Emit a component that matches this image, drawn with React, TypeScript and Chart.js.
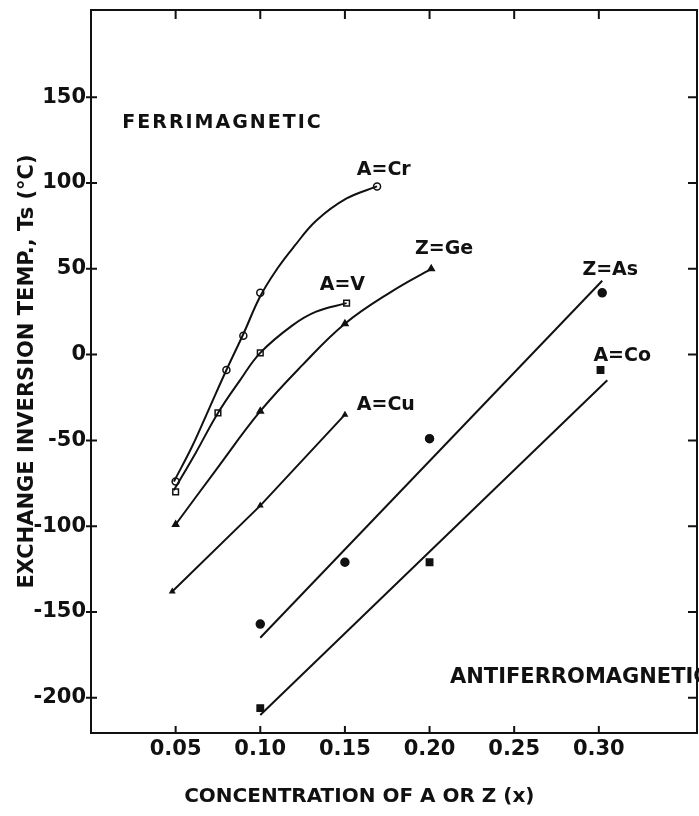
import React, { useEffect, useRef } from "react";
import { Chart, registerables } from "chart.js";

Chart.register(...registerables);

// ---- axis ticks ----
const xTickValues = [0.05, 0.1, 0.15, 0.2, 0.25, 0.3];
const xTickLabels = ["0.05", "0.10", "0.15", "0.20", "0.25", "0.30"];
const yTickValues = [-200, -150, -100, -50, 0, 50, 100, 150];

// ---- measured points (concentration x, temperature Ts °C) ----
const crX = [0.05, 0.08, 0.09, 0.1, 0.169];
const crY = [-74, -9, 11, 36, 98];
const vX = [0.05, 0.075, 0.1, 0.151];
const vY = [-80, -34, 1, 30];
const geX = [0.05, 0.1, 0.15, 0.201];
const geY = [-99, -33, 18, 50];
const cuX = [0.048, 0.1, 0.15];
const cuY = [-138, -88, -35];
const asX = [0.1, 0.15, 0.2, 0.302];
const asY = [-157, -121, -49, 36];
const coX = [0.1, 0.2, 0.301];
const coY = [-206, -121, -9];

// ---- drawn curves ----
const crCurveX = [0.049, 0.06, 0.07, 0.08, 0.09, 0.1, 0.11, 0.12, 0.133, 0.151, 0.169];
const crCurveY = [-74, -53, -31, -9, 12, 34, 50, 63, 78, 91, 98];
const vCurveX = [0.049, 0.062, 0.075, 0.088, 0.1, 0.119, 0.133, 0.151];
const vCurveY = [-79, -57, -34, -15, 1, 17, 25, 30];
const geCurveX = [0.05, 0.074, 0.1, 0.125, 0.15, 0.178, 0.201];
const geCurveY = [-99, -67, -33, -6, 18, 37, 50];
const asFitX = [0.1, 0.302];
const asFitY = [-165, 43];
const coFitX = [0.1, 0.305];
const coFitY = [-210, -15];

// ---- annotation labels (anchored in data coordinates) ----
const noteTexts = ["FERRIMAGNETIC", "A=Cr", "Z=Ge", "A=V", "Z=As", "A=Co", "A=Cu", "ANTIFERROMAGNETIC"];
const noteX = [0.0185, 0.157, 0.1914, 0.1351, 0.2903, 0.2968, 0.157, 0.2121];
const noteY = [135, 107.5, 61.5, 40.6, 49.3, -0.8, -29.5, -188.4];
const noteSize = [19, 19, 19, 19, 19, 19, 19, 21];
const noteSpacing = [2, 0, 0, 0, 0, 0, 0, 0];

const X_TITLE = "CONCENTRATION OF A OR Z (x)";
const Y_TITLE = "EXCHANGE INVERSION TEMP., Ts (°C)";

const FONT = "'DejaVu Sans', 'Liberation Sans', sans-serif";
const INK = "#111111";

const pts = (xs: number[], ys: number[]) => xs.map((x, i) => ({ x, y: ys[i] }));

const framePlugin = {
  id: "frameAndNotes",
  afterDraw(chart: any) {
    const { ctx, chartArea: a, scales } = chart;
    const xs = scales.x;
    const ys = scales.y;
    ctx.save();
    ctx.strokeStyle = INK;
    ctx.lineWidth = 2;
    ctx.strokeRect(a.left, a.top, a.right - a.left, a.bottom - a.top);
    ctx.beginPath();
    xTickValues.forEach((v) => {
      const px = xs.getPixelForValue(v);
      ctx.moveTo(px, a.bottom);
      ctx.lineTo(px, a.bottom - 7);
      ctx.moveTo(px, a.top);
      ctx.lineTo(px, a.top + 9);
    });
    yTickValues.forEach((v) => {
      const py = ys.getPixelForValue(v);
      ctx.moveTo(a.left - 5, py);
      ctx.lineTo(a.left + 6, py);
      ctx.moveTo(a.right, py);
      ctx.lineTo(a.right - 9, py);
    });
    ctx.stroke();

    ctx.fillStyle = INK;
    ctx.textAlign = "left";
    ctx.textBaseline = "middle";
    noteTexts.forEach((t, i) => {
      ctx.font = `bold ${noteSize[i]}px ${FONT}`;
      (ctx as any).letterSpacing = `${noteSpacing[i]}px`;
      ctx.fillText(t, xs.getPixelForValue(noteX[i]), ys.getPixelForValue(noteY[i]));
    });
    (ctx as any).letterSpacing = "0px";
    ctx.font = `bold 20px ${FONT}`;
    ctx.textAlign = "center";
    ctx.fillText(X_TITLE, xs.getPixelForValue(0.1585), a.bottom + 64);
    ctx.restore();
  },
};

export default function App() {
  const ref = useRef<HTMLCanvasElement | null>(null);

  useEffect(() => {
    if (!ref.current) return;
    const curve = {
      showLine: true,
      borderColor: INK,
      borderWidth: 2,
      pointRadius: 0,
      tension: 0.4,
    };
    const straight = { ...curve, tension: 0 };
    const marks = {
      showLine: false,
      pointBorderColor: INK,
      pointBorderWidth: 1.5,
    };
    const chart = new Chart(ref.current, {
      type: "scatter",
      data: {
        datasets: [
          { ...curve, label: "A=Cr curve", data: pts(crCurveX, crCurveY) },
          { ...curve, label: "A=V curve", data: pts(vCurveX, vCurveY) },
          { ...curve, label: "Z=Ge curve", data: pts(geCurveX, geCurveY) },
          { ...straight, label: "A=Cu curve", data: pts(cuX, cuY) },
          { ...straight, label: "Z=As fit", data: pts(asFitX, asFitY) },
          { ...straight, label: "A=Co fit", data: pts(coFitX, coFitY) },
          {
            ...marks,
            label: "A=Cr",
            data: pts(crX, crY),
            pointStyle: "circle",
            pointRadius: 3.5,
            pointBackgroundColor: "#ffffff",
          },
          {
            ...marks,
            label: "A=V",
            data: pts(vX, vY),
            pointStyle: "rect",
            pointRadius: 4,
            pointBackgroundColor: "#ffffff",
          },
          {
            ...marks,
            label: "Z=Ge",
            data: pts(geX, geY),
            pointStyle: "triangle",
            pointRadius: 3.5,
            pointBackgroundColor: INK,
          },
          {
            ...marks,
            label: "A=Cu",
            data: pts(cuX, cuY),
            pointStyle: "triangle",
            pointRadius: 2.5,
            pointBackgroundColor: INK,
          },
          {
            ...marks,
            label: "Z=As",
            data: pts(asX, asY),
            pointStyle: "circle",
            pointRadius: 4,
            pointBackgroundColor: INK,
          },
          {
            ...marks,
            label: "A=Co",
            data: pts(coX, coY),
            pointStyle: "rect",
            pointRadius: 4.5,
            pointBackgroundColor: INK,
          },
        ],
      },
      options: {
        responsive: false,
        animation: false,
        devicePixelRatio: 1,
        layout: { autoPadding: false, padding: { top: 10, right: 2, left: 0, bottom: 0 } },
        plugins: {
          legend: { display: false },
          tooltip: { enabled: false },
          title: { display: false },
        },
        scales: {
          x: {
            type: "linear",
            min: 0,
            max: 0.358,
            grid: { display: false, drawTicks: false },
            border: { display: false },
            afterBuildTicks: (s: any) => {
              s.ticks = xTickValues.map((v) => ({ value: v }));
            },
            afterFit: (s: any) => {
              s.height = 83;
              s.paddingLeft = 0;
              s.paddingRight = 0;
            },
            ticks: {
              color: INK,
              padding: 4,
              maxRotation: 0,
              autoSkip: false,
              font: { family: FONT, size: 21, weight: "bold" },
              callback: (v: any) => {
                const i = xTickValues.findIndex((t) => Math.abs(t - v) < 1e-9);
                return i >= 0 ? xTickLabels[i] : "";
              },
            },
            title: { display: false, text: X_TITLE },
          },
          y: {
            type: "linear",
            min: -220.5,
            max: 200.8,
            grid: { display: false, drawTicks: false },
            border: { display: false },
            afterBuildTicks: (s: any) => {
              s.ticks = yTickValues.map((v) => ({ value: v }));
            },
            afterFit: (s: any) => {
              s.width = 91;
              s.paddingTop = 0;
              s.paddingBottom = 0;
            },
            ticks: {
              color: INK,
              padding: 5,
              autoSkip: false,
              font: { family: FONT, size: 21, weight: "bold" },
              callback: (v: any) => String(v),
            },
            title: {
              display: true,
              text: Y_TITLE,
              color: INK,
              padding: { top: 15, bottom: 0 },
              font: { family: FONT, size: 21, weight: "bold" },
            },
          },
        },
      } as any,
      plugins: [framePlugin],
    });
    return () => chart.destroy();
  }, []);

  return (
    <div
      style={{
        position: "fixed",
        left: 0,
        top: 0,
        width: 699,
        height: 816,
        background: "#ffffff",
      }}
    >
      <canvas ref={ref} width={699} height={816} style={{ display: "block" }} />
    </div>
  );
}
